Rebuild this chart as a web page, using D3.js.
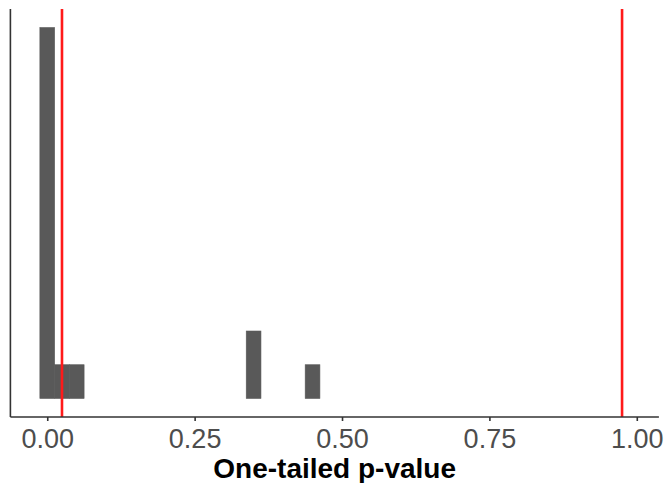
<!DOCTYPE html>
<html>
<head>
<meta charset="utf-8">
<script src="https://cdn.jsdelivr.net/npm/d3@7"></script>
<style>
  html, body { margin: 0; padding: 0; background: #fff; }
  svg { display: block; }
</style>
</head>
<body>
<script>
// ---- data ----
const binCenters = [0, 0.025, 0.05, 0.35, 0.45];
const binCounts = [11, 1, 1, 2, 1];
const binWidth = 0.025;
const criticalValues = [0.025, 0.975];
const xTickValues = [0, 0.25, 0.5, 0.75, 1];
const xTickLabels = ["0.00", "0.25", "0.50", "0.75", "1.00"];
const xTitle = "One-tailed p-value";

// ---- layout ----
const W = 666, H = 483;
const panel = { left: 10.4, right: 658.9, top: 9, bottom: 417 };

const svg = d3.select("body").append("svg")
  .attr("width", W).attr("height", H);

const x = d3.scaleLinear()
  .domain([-0.0625, 1.0375])
  .range([panel.left, panel.right]);

const yMax = d3.max(binCounts);
const y = d3.scaleLinear()
  .domain([-0.05 * yMax, 1.05 * yMax])
  .range([panel.bottom, panel.top]);

const bins = binCenters.map((c, i) => ({ x0: c - binWidth / 2, x1: c + binWidth / 2, n: binCounts[i] }));

// bars
svg.append("g").selectAll("rect").data(bins).join("rect")
  .attr("x", d => x(d.x0))
  .attr("width", d => x(d.x1) - x(d.x0))
  .attr("y", d => y(d.n))
  .attr("height", d => y(0) - y(d.n))
  .attr("fill", "#595959")
  .attr("stroke", "#595959")
  .attr("stroke-width", 0.6);

// red vertical lines
svg.append("g").selectAll("line").data(criticalValues).join("line")
  .attr("x1", d => x(d)).attr("x2", d => x(d))
  .attr("y1", panel.top).attr("y2", panel.bottom)
  .attr("stroke", "#ff1a1a")
  .attr("stroke-width", 2.6);

// x axis
const xAxis = d3.axisBottom(x)
  .tickValues(xTickValues)
  .tickFormat((d, i) => xTickLabels[i])
  .tickSize(4)
  .tickPadding(6);

const gx = svg.append("g")
  .attr("transform", `translate(0,${panel.bottom})`)
  .call(xAxis);
gx.select(".domain")
  .attr("d", `M${panel.left},0H${panel.right}`)
  .attr("stroke", "#333333").attr("stroke-width", 1.6);
gx.selectAll(".tick line").attr("stroke", "#333333").attr("stroke-width", 1.6);
gx.selectAll(".tick text")
  .attr("fill", "#4d4d4d")
  .attr("font-family", "'Liberation Sans', Arial, sans-serif")
  .attr("font-size", 27)
  .attr("dy", null)
  .attr("y", 31);

// y axis (line only)
const yAxis = d3.axisLeft(y).tickValues([]).tickSize(0);
const gy = svg.append("g")
  .attr("transform", `translate(${panel.left},0)`)
  .call(yAxis);
gy.select(".domain")
  .attr("d", `M0,${panel.top}V${panel.bottom}`)
  .attr("stroke", "#333333").attr("stroke-width", 1.6);

// x title
svg.append("text")
  .attr("x", (panel.left + panel.right) / 2)
  .attr("y", 478)
  .attr("text-anchor", "middle")
  .attr("font-family", "'Liberation Sans', Arial, sans-serif")
  .attr("font-weight", "bold")
  .attr("font-size", 28)
  .attr("fill", "#000")
  .text(xTitle);
</script>
</body>
</html>
